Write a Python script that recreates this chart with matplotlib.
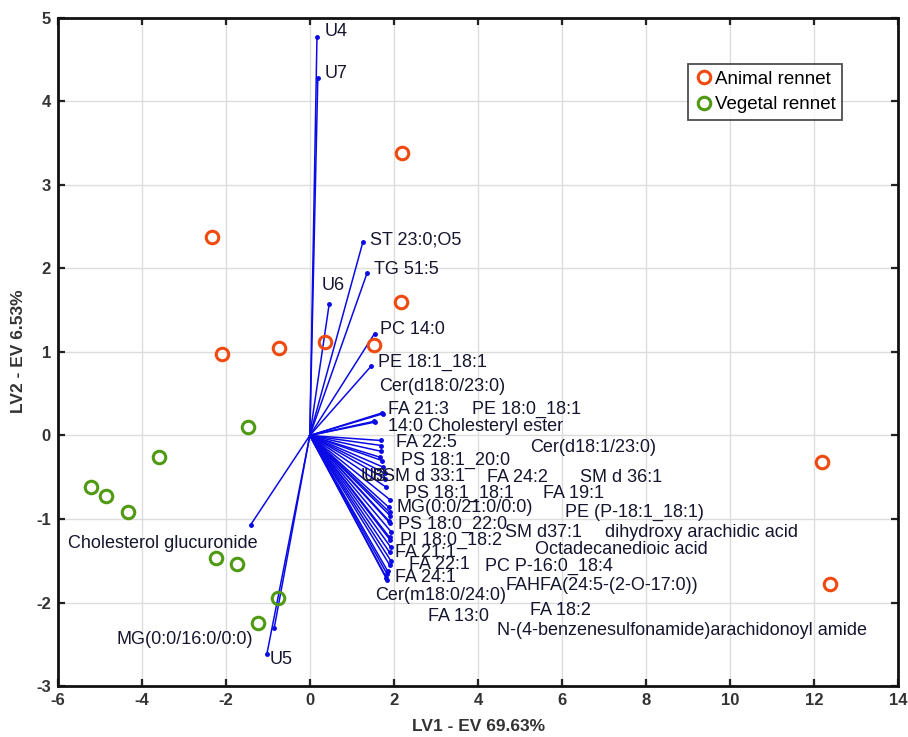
import matplotlib
matplotlib.use("Agg")
import matplotlib.pyplot as plt

plt.rcParams['font.family'] = ['Liberation Sans', 'DejaVu Sans']
plt.rcParams['axes.unicode_minus'] = False

# ---- scores ----
animal_x = [2.2, -2.33, 2.16, -2.09, -0.74, 0.36, 1.53, 12.2, 12.38]
animal_y = [3.38, 2.38, 1.6, 0.97, 1.05, 1.12, 1.08, -0.32, -1.78]
vegetal_x = [-1.46, -3.6, -5.2, -4.84, -4.32, -2.23, -1.73, -0.76, -1.24]
vegetal_y = [0.1, -0.26, -0.62, -0.72, -0.92, -1.47, -1.54, -1.94, -2.25]

# ---- loadings ----
load_names = ["U4", "U7", "ST 23:0;O5", "TG 51:5", "U6", "PC 14:0", "PE 18:1_18:1",
              "Cer(d18:0/23:0)", "FA 21:3", "PE 18:0_18:1", "14:0 Cholesteryl ester",
              "FA 22:5", "Cer(d18:1/23:0)", "PS 18:1_20:0", "U8", "U3", "SM d 33:1",
              "FA 24:2", "SM d 36:1", "PS 18:1_18:1", "FA 19:1", "MG(0:0/21:0/0:0)",
              "PE (P-18:1_18:1)", "PS 18:0_22:0", "SM d37:1", "dihydroxy arachidic acid",
              "PI 18:0_18:2", "Octadecanedioic acid", "FA 21:1", "FA 22:1",
              "PC P-16:0_18:4", "FA 24:1", "FAHFA(24:5-(2-O-17:0))", "Cer(m18:0/24:0)",
              "FA 18:2", "FA 13:0", "N-(4-benzenesulfonamide)arachidonoyl amide",
              "Cholesterol glucuronide", "MG(0:0/16:0/0:0)", "U5"]
load_x = [0.17, 0.19, 1.26, 1.36, 0.46, 1.54, 1.46,
          1.72, 1.74, 1.53, 1.55,
          1.69, 1.70, 1.70, 1.67, 1.72, 1.75,
          1.78, 1.80, 1.82, 1.91, 1.88,
          1.90, 1.91, 1.88, 1.91,
          1.93, 1.90, 1.91, 1.93,
          1.90, 1.93, 1.90, 1.85,
          1.84, 1.82, 1.84,
          -1.41, -0.85, -1.02]
load_y = [4.77, 4.28, 2.31, 1.94, 1.57, 1.22, 0.83,
          0.27, 0.26, 0.17, 0.16,
          -0.06, -0.12, -0.19, -0.26, -0.30, -0.38,
          -0.45, -0.52, -0.62, -0.77, -0.86,
          -0.92, -0.96, -1.02, -1.05,
          -1.15, -1.22, -1.25, -1.34,
          -1.40, -1.50, -1.55, -1.62,
          -1.66, -1.70, -1.73,
          -1.07, -2.31, -2.61]

# label placement (data coords, left / center anchored)
label_pos = [(0.36, 4.83), (0.36, 4.33), (1.44, 2.34), (1.53, 1.99), (0.27, 1.79),
             (1.67, 1.27), (1.63, 0.88), (1.65, 0.59), (1.87, 0.31), (3.87, 0.31),
             (1.87, 0.11), (2.06, -0.09), (5.25, -0.14), (2.17, -0.30), (1.20, -0.49),
             (1.28, -0.49), (1.75, -0.49), (4.21, -0.50), (6.44, -0.50), (2.27, -0.69),
             (5.56, -0.70), (2.07, -0.86), (6.08, -0.92), (2.11, -1.06), (4.65, -1.16),
             (7.03, -1.16), (2.15, -1.26), (5.36, -1.37), (2.03, -1.40), (2.35, -1.55),
             (4.17, -1.57), (2.03, -1.70), (4.65, -1.79), (1.56, -1.91), (5.25, -2.09),
             (2.82, -2.17), (4.45, -2.34), (-5.75, -1.29), (-4.61, -2.44), (-0.95, -2.68)]

xticks = [-6, -4, -2, 0, 2, 4, 6, 8, 10, 12, 14]
yticks = [-3, -2, -1, 0, 1, 2, 3, 4, 5]

fig = plt.figure(figsize=(9.08, 7.37), dpi=100)
ax = fig.add_axes([0.0636, 0.069, 0.9254, 0.907])

ax.set_xlim(-6, 14)
ax.set_ylim(-3, 5)
ax.set_xticks(xticks)
ax.set_yticks(yticks)
ax.grid(True, color='#dcdcdc', linewidth=1.0)
ax.set_axisbelow(True)
ax.tick_params(direction='in', length=5, width=1.6, top=True, right=True,
               labelsize=12, colors='#222222', pad=5)
for lab in ax.get_xticklabels() + ax.get_yticklabels():
    lab.set_fontweight('bold')
    lab.set_color('#333333')
for s in ax.spines.values():
    s.set_linewidth(2.0)
    s.set_color('#111111')

blue = '#0a0ae6'
for lx, ly in zip(load_x, load_y):
    ax.plot([0, lx], [0, ly], color=blue, linewidth=1.1, zorder=3)
    ax.plot(lx, ly, 'o', color=blue, markersize=2.5, zorder=3)

for name, (tx, ty) in zip(load_names, label_pos):
    ax.text(tx, ty, name, fontsize=13, color='#15152e', ha='left', va='center', zorder=5)

red = '#f04a10'
green = '#4f9a12'
ax.plot(animal_x, animal_y, 'o', markerfacecolor='none', markeredgecolor=red,
        markeredgewidth=2.2, markersize=9, linestyle='none', label='Animal rennet', zorder=4)
ax.plot(vegetal_x, vegetal_y, 'o', markerfacecolor='none', markeredgecolor=green,
        markeredgewidth=2.2, markersize=9, linestyle='none', label='Vegetal rennet', zorder=4)

leg = ax.legend(loc='upper right', bbox_to_anchor=(0.9334, 0.9307), fontsize=13.5,
                frameon=True, fancybox=False, edgecolor='#222222', handletextpad=0.05,
                handlelength=1.0, borderpad=0.35, labelspacing=0.45, borderaxespad=0)
leg.get_frame().set_linewidth(1.3)

fig.text(0.527, 0.004, 'LV1 - EV 69.63%', fontsize=12.5, fontweight='bold',
         color='#333333', ha='center', va='bottom')
fig.text(0.012, 0.523, 'LV2 - EV 6.53%', fontsize=12.5, fontweight='bold',
         color='#333333', ha='left', va='center', rotation=90)

fig.savefig('out.png', dpi=100)
